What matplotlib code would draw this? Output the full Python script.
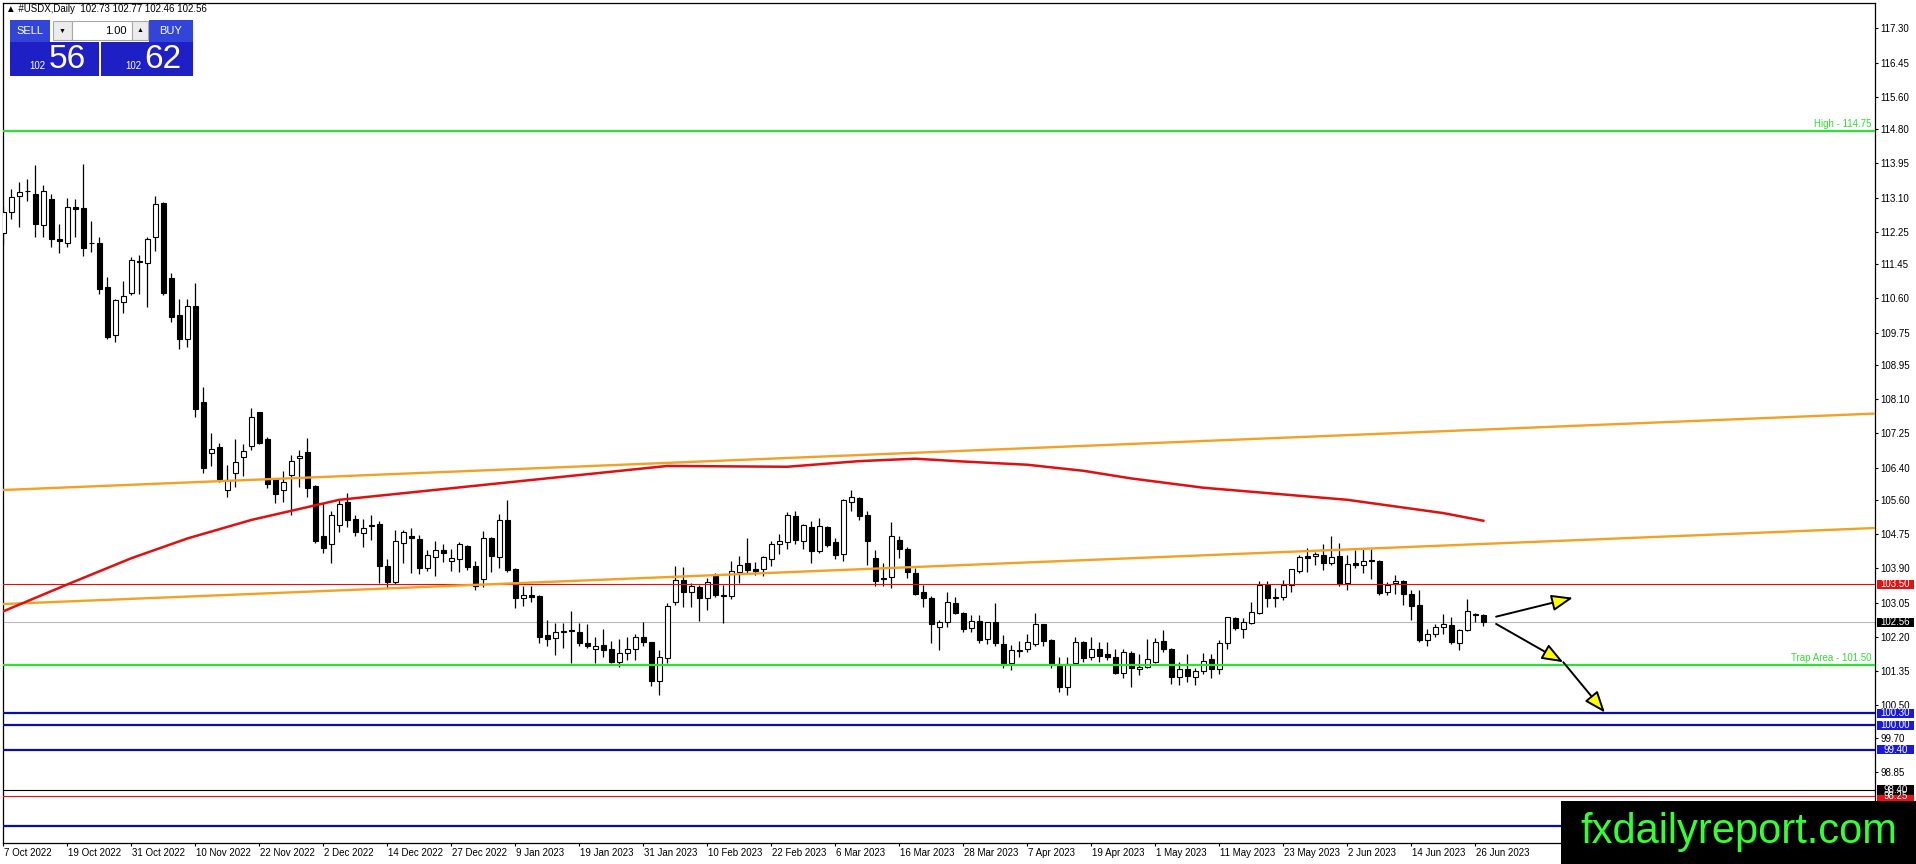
import numpy as np
import matplotlib
matplotlib.use('Agg')
import matplotlib.pyplot as plt
import matplotlib.transforms as mtransforms
from matplotlib.patches import Rectangle, FancyArrowPatch

plt.rcParams['font.family'] = ['Liberation Sans', 'DejaVu Sans']

# figure / frame geometry in pixels
W, H = 1916, 864
FRAME_L, FRAME_R, FRAME_T, FRAME_B = 2.5, 1875, 2.7, 843
Y_TOP, Y_BOT = 117.935, 97.084
X_LEFT, X_RIGHT = -0.1, 233.96

# daily USDX candles, 7 Oct 2022 .. 27 Jun 2023
opens = [112.21, 112.75, 113.14, 113.26, 113.20, 112.41, 113.06, 112.06, 111.96, 112.86,
         112.83, 111.96, 111.96, 110.87, 109.68, 110.52, 110.72, 111.52, 111.47, 112.13,
         112.97, 111.10, 110.19, 109.59, 110.41, 108.02, 106.75, 106.90, 105.84, 106.26,
         106.66, 106.94, 107.77, 107.11, 106.11, 105.84, 106.22, 106.63, 106.78, 105.94,
         104.69, 104.50, 104.97, 105.55, 105.12, 104.77, 104.98, 104.99, 103.96, 103.57,
         104.52, 104.71, 104.62, 103.92, 104.19, 104.35, 104.07, 104.14, 104.45, 103.96,
         103.63, 104.64, 104.17, 105.09, 103.88, 103.16, 103.25, 103.21, 102.25, 102.16,
         102.31, 102.36, 102.33, 102.04, 101.91, 102.00, 101.89, 101.58, 101.79, 101.91,
         102.19, 102.06, 101.10, 101.67, 103.07, 103.61, 103.30, 103.43, 103.16, 103.71,
         103.25, 103.22, 103.81, 104.02, 103.88, 103.88, 104.12, 104.50, 104.56, 105.20,
         104.59, 104.93, 104.34, 104.93, 104.56, 104.25, 105.55, 105.64, 105.22, 104.15,
         103.65, 103.69, 104.60, 104.38, 103.78, 103.31, 103.16, 102.45, 102.56, 103.03,
         102.80, 102.41, 102.60, 102.14, 102.58, 102.02, 101.54, 101.85, 101.89, 102.02,
         102.51, 102.12, 101.48, 100.96, 101.54, 102.06, 101.69, 101.89, 101.77, 101.69,
         101.29, 101.79, 101.39, 101.46, 101.58, 102.10, 101.91, 101.21, 101.39, 101.21,
         101.34, 101.64, 101.39, 102.04, 102.66, 102.39, 102.55, 102.80, 103.49, 103.16,
         103.20, 103.49, 103.84, 104.20, 104.21, 104.23, 104.02, 104.21, 103.53, 104.02,
         103.98, 104.10, 104.08, 103.30, 103.53, 103.59, 103.26, 102.99, 102.12, 102.26,
         102.44, 102.49, 102.04, 102.37, 102.77, 102.73]
highs = [112.88, 113.30, 113.48, 113.55, 113.91, 113.40, 113.19, 112.44, 113.08, 113.06,
         113.93, 112.52, 112.11, 111.14, 110.59, 111.03, 111.63, 111.67, 112.11, 113.14,
         112.98, 111.24, 110.58, 110.59, 110.97, 108.41, 107.25, 107.02, 106.46, 107.10,
         106.99, 107.87, 107.78, 107.17, 106.13, 106.32, 106.71, 106.84, 107.14, 105.97,
         105.51, 105.31, 105.60, 105.76, 105.22, 105.12, 105.22, 105.07, 104.13, 104.85,
         104.85, 104.89, 104.73, 104.35, 104.58, 104.50, 104.37, 104.55, 104.47, 104.08,
         104.83, 104.67, 105.25, 105.60, 103.90, 103.46, 103.45, 103.25, 102.62, 102.54,
         102.54, 102.85, 102.54, 102.52, 102.20, 102.39, 102.10, 102.15, 102.19, 102.27,
         102.58, 102.08, 101.87, 103.05, 103.96, 103.94, 103.53, 103.49, 103.67, 103.79,
         103.49, 104.09, 104.21, 104.64, 104.05, 104.21, 104.58, 104.74, 105.29, 105.32,
         104.99, 105.07, 105.14, 104.95, 104.64, 105.61, 105.84, 105.68, 105.33, 104.36,
         104.02, 105.06, 104.70, 104.42, 103.90, 103.49, 103.22, 102.62, 103.32, 103.20,
         102.82, 102.74, 102.73, 102.58, 103.03, 102.25, 101.99, 102.10, 102.27, 102.78,
         102.52, 102.14, 101.71, 101.71, 102.19, 102.10, 102.19, 102.08, 102.08, 101.91,
         101.89, 101.85, 101.77, 102.14, 102.16, 102.37, 101.93, 101.58, 101.77, 101.42,
         101.79, 101.77, 102.12, 102.70, 102.70, 102.66, 103.07, 103.59, 103.59, 103.40,
         103.61, 103.89, 104.23, 104.40, 104.31, 104.50, 104.69, 104.52, 104.23, 104.35,
         104.37, 104.37, 104.11, 103.57, 103.73, 103.60, 103.36, 103.36, 102.39, 102.52,
         102.76, 102.68, 102.39, 103.14, 102.78, 102.77]
lows = [111.92, 112.57, 112.38, 113.02, 112.11, 112.13, 111.88, 111.73, 111.88, 112.13,
        111.66, 111.76, 110.71, 109.60, 109.51, 110.24, 110.68, 110.70, 110.39, 111.78,
        110.68, 110.02, 109.34, 109.40, 107.66, 106.26, 106.44, 106.05, 105.68, 105.93,
        106.19, 106.84, 106.99, 105.89, 105.51, 105.55, 105.22, 105.93, 105.68, 104.54,
        104.29, 104.02, 104.81, 104.93, 104.69, 104.42, 104.60, 103.54, 103.42, 103.51,
        104.02, 103.78, 103.75, 103.83, 103.72, 104.06, 103.83, 103.82, 103.86, 103.35,
        103.43, 103.80, 103.92, 103.82, 102.91, 102.97, 103.07, 102.04, 101.96, 101.75,
        101.92, 101.54, 101.96, 101.92, 101.54, 101.71, 101.54, 101.46, 101.62, 101.62,
        101.96, 100.98, 100.76, 101.55, 102.99, 102.95, 102.95, 102.60, 102.87, 103.20,
        102.55, 103.13, 103.53, 103.78, 103.73, 103.71, 103.96, 104.26, 104.38, 104.50,
        104.38, 104.04, 104.29, 104.44, 104.12, 104.07, 105.33, 105.10, 103.98, 103.45,
        103.45, 103.40, 104.15, 103.65, 103.24, 102.95, 102.04, 101.87, 102.45, 102.77,
        102.33, 102.33, 102.04, 102.02, 101.98, 101.42, 101.38, 101.71, 101.83, 101.96,
        101.96, 101.42, 100.84, 100.76, 101.50, 101.58, 101.63, 101.58, 101.63, 101.28,
        101.17, 100.96, 101.25, 101.42, 101.54, 101.83, 101.03, 101.00, 101.07, 101.00,
        101.27, 101.17, 101.28, 101.91, 102.37, 102.16, 102.51, 102.76, 102.95, 102.93,
        103.11, 103.30, 103.79, 103.82, 103.98, 103.86, 103.98, 103.45, 103.36, 103.90,
        103.78, 103.63, 103.24, 103.24, 103.26, 102.99, 102.62, 102.06, 101.96, 102.20,
        102.27, 102.02, 101.87, 102.35, 102.58, 102.46]
closes = [112.75, 113.12, 113.25, 113.27, 112.44, 113.27, 112.06, 112.01, 112.87, 112.81,
          111.84, 111.97, 110.84, 109.65, 110.55, 110.65, 111.54, 111.49, 112.06, 112.93,
          110.72, 110.14, 109.60, 110.40, 107.85, 106.38, 106.85, 106.11, 106.09, 106.53,
          106.82, 107.66, 107.02, 105.99, 105.74, 106.05, 106.57, 106.69, 105.89, 104.59,
          104.40, 105.22, 105.49, 105.10, 104.79, 104.89, 104.96, 103.96, 103.57, 104.58,
          104.79, 104.64, 103.92, 104.22, 104.35, 104.29, 104.15, 104.50, 103.94, 103.45,
          104.64, 104.21, 105.09, 103.86, 103.16, 103.25, 103.20, 102.20, 102.14, 102.33,
          102.35, 102.34, 102.04, 101.97, 101.98, 101.87, 101.58, 101.79, 101.89, 102.19,
          102.06, 101.11, 101.71, 102.97, 103.61, 103.30, 103.45, 103.17, 103.55, 103.24,
          103.22, 103.83, 103.97, 103.86, 103.84, 104.17, 104.50, 104.58, 105.22, 104.60,
          104.98, 104.34, 104.95, 104.48, 104.23, 105.60, 105.66, 105.20, 104.59, 103.59,
          103.63, 104.70, 104.38, 103.82, 103.26, 103.17, 102.51, 102.56, 103.07, 102.80,
          102.39, 102.60, 102.12, 102.56, 102.04, 101.54, 101.87, 101.87, 102.06, 102.51,
          102.10, 101.52, 100.96, 101.52, 102.06, 101.68, 101.91, 101.73, 101.69, 101.29,
          101.82, 101.42, 101.46, 101.64, 102.06, 101.91, 101.21, 101.39, 101.24, 101.35,
          101.61, 101.39, 102.04, 102.68, 102.41, 102.58, 102.82, 103.49, 103.16, 103.20,
          103.49, 103.88, 104.19, 104.16, 104.25, 104.02, 104.17, 103.51, 104.01, 103.98,
          104.09, 104.09, 103.28, 103.49, 103.59, 103.26, 102.97, 102.11, 102.26, 102.45,
          102.51, 102.06, 102.37, 102.84, 102.73, 102.56]

date_labels = ['7 Oct 2022', '19 Oct 2022', '31 Oct 2022', '10 Nov 2022', '22 Nov 2022',
               '2 Dec 2022', '14 Dec 2022', '27 Dec 2022', '9 Jan 2023', '19 Jan 2023',
               '31 Jan 2023', '10 Feb 2023', '22 Feb 2023', '6 Mar 2023', '16 Mar 2023',
               '28 Mar 2023', '7 Apr 2023', '19 Apr 2023', '1 May 2023', '11 May 2023',
               '23 May 2023', '2 Jun 2023', '14 Jun 2023', '26 Jun 2023']
date_step = 8

price_ticks = ['117.30', '116.45', '115.60', '114.80', '113.95', '113.10', '112.25', '111.45',
               '110.60', '109.75', '108.95', '108.10', '107.25', '106.40', '105.60', '104.75',
               '103.90', '103.05', '102.20', '101.35', '100.50', '99.70', '98.85']

# moving average (red)
sma_x = [-0.4, 8, 16, 23, 31, 42, 62, 83, 98, 107, 114, 120, 128, 135, 141, 150, 168, 180, 185]
sma_y = [102.80, 103.50, 104.15, 104.64, 105.10, 105.60, 106.01, 106.44, 106.42, 106.56,
         106.62, 106.55, 106.47, 106.32, 106.13, 105.90, 105.60, 105.27, 105.08]

# orange channel
channel_x = [-0.41, 233.96]
channel_upper = [105.84, 107.74]
channel_lower = [103.01, 104.90]

# horizontal levels
high_level = 114.75
trap_level = 101.50
resist_level = 103.50
bid_price = 102.56
blue_levels = [100.30, 100.00, 99.40, 97.50]
black_level = 98.40
red_low_level = 98.25

# projected paths
arrow_up = [(186.6, 102.70), (196.2, 103.17)]
arrow_down = [(186.6, 102.52), (195.0, 101.57), (200.2, 100.32)]

GREEN = '#30e030'
BLUE = '#0c0ca8'
RED = '#e01010'
ORANGE = '#f3a024'

fig = plt.figure(figsize=(W / 100, H / 100), dpi=100)
ax = fig.add_axes([FRAME_L / W, (H - FRAME_B) / H, (FRAME_R - FRAME_L) / W, (FRAME_B - FRAME_T) / H])
ax.set_xlim(X_LEFT, X_RIGHT)
ax.set_ylim(Y_BOT, Y_TOP)
for s in ax.spines.values():
    s.set_linewidth(0.9)
    s.set_color('black')

# candles
o = np.array(opens)
c = np.array(closes)
x = np.arange(len(o))
up = c >= o
ax.vlines(x, lows, highs, color='black', lw=0.9, zorder=3)
ax.bar(x[up], (c - o)[up], bottom=o[up], width=0.55, color='white', edgecolor='black', lw=0.8, zorder=4)
ax.bar(x[~up], (o - c)[~up], bottom=c[~up], width=0.55, color='black', edgecolor='black', lw=0.8, zorder=4)

# levels
ax.axhline(high_level, color=GREEN, lw=1.6, zorder=5)
ax.axhline(trap_level, color=GREEN, lw=1.6, zorder=5)
ax.axhline(resist_level, color=RED, lw=0.8, zorder=5)
ax.axhline(bid_price, color='#b8b8b8', lw=0.8, zorder=2)
for lv in blue_levels:
    ax.axhline(lv, color=BLUE, lw=1.6, zorder=5)
ax.axhline(black_level, color='black', lw=0.8, zorder=5)
ax.axhline(red_low_level, color=RED, lw=0.8, zorder=5)

ax.plot(channel_x, channel_upper, color=ORANGE, lw=1.7, zorder=5)
ax.plot(channel_x, channel_lower, color=ORANGE, lw=1.7, zorder=5)
ax.plot(sma_x, sma_y, color=RED, lw=1.8, zorder=6)

ax.text(X_RIGHT - 0.4, high_level + 0.05, f'High - {high_level:.2f}', color=GREEN,
        fontsize=7, ha='right', va='bottom', zorder=6)
ax.text(X_RIGHT - 0.4, trap_level + 0.05, f'Trap Area - {trap_level:.2f}', color=GREEN,
        fontsize=7, ha='right', va='bottom', zorder=6)

# arrows
def draw_arrow(p0, p1):
    a = FancyArrowPatch(p0, p1, arrowstyle='-|>,head_length=1.3,head_width=0.5',
                        mutation_scale=10, fc='#ffff00', ec='black', lw=1.4, zorder=7,
                        shrinkA=0, shrinkB=0)
    ax.add_patch(a)

draw_arrow(arrow_up[0], arrow_up[1])
for i in range(len(arrow_down) - 1):
    draw_arrow(arrow_down[i], arrow_down[i + 1])

# axes ticks
ax.yaxis.tick_right()
ax.set_yticks([float(t) for t in price_ticks])
ax.set_yticklabels(price_ticks)
ax.tick_params(axis='y', direction='out', length=2.5, width=0.8, pad=1.5, labelsize=7)
ax.set_xticks(np.arange(len(date_labels)) * date_step)
ax.set_xticklabels(date_labels, ha='left')
ax.tick_params(axis='x', direction='out', length=2.5, width=0.8, pad=1.0, labelsize=7)
shift = mtransforms.ScaledTranslation(1 / 100, 0, fig.dpi_scale_trans)
for lab in ax.get_xticklabels():
    lab.set_transform(lab.get_transform() + shift)

# price labels on the right axis
box_tr = mtransforms.blended_transform_factory(fig.transFigure, ax.transData)
box_h = 9.6 / 40.3
right_boxes = [(resist_level, '#e81010'), (bid_price, 'black'), (blue_levels[0], '#1a1ad8'),
               (blue_levels[1], '#1a1ad8'), (blue_levels[2], '#1a1ad8'), (red_low_level, '#e81010'),
               (black_level, 'black')]
for lv, col in right_boxes:
    ax.add_patch(Rectangle((1877 / W, lv - box_h / 2), 37 / W, box_h, transform=box_tr,
                           facecolor=col, edgecolor='none', clip_on=False, zorder=8))
    ax.text(1895.5 / W, lv, f'{lv:.2f}', transform=box_tr, color='white', fontsize=7,
            ha='center', va='center', clip_on=False, zorder=9)

# header and one-click trading panel (figure pixels, origin top-left)
px = mtransforms.Affine2D().scale(1 / W, -1 / H).translate(0, 1) + fig.transFigure

def box(x0, y0, w, h, fc, ec='none'):
    fig.patches.append(Rectangle((x0, y0), w, h, transform=px, facecolor=fc, edgecolor=ec,
                                 lw=0.8, zorder=5))

fig.text(6, 9, '\u25b2 #USDX,Daily  102.73 102.77 102.46 102.56', transform=px,
         fontsize=7, ha='left', va='center', zorder=6)
box(10, 20, 40, 22, '#3344d8')
box(149, 20, 44, 22, '#3344d8')
box(53, 21, 19, 19, '#ececec', '#a8a8a8')
box(72, 21, 60, 19, 'white', '#a8a8a8')
box(132, 21, 16, 19, '#ececec', '#a8a8a8')
box(10, 42, 89, 34, '#1f1fc6')
box(101, 42, 92, 34, '#1f1fc6')
fig.text(30, 31, 'SELL', transform=px, color='white', fontsize=8, ha='center', va='center', zorder=6)
fig.text(171, 31, 'BUY', transform=px, color='white', fontsize=8, ha='center', va='center', zorder=6)
fig.text(62, 31, '\u25bc', transform=px, color='black', fontsize=5, ha='center', va='center', zorder=6)
fig.text(140, 31, '\u25b2', transform=px, color='black', fontsize=5, ha='center', va='center', zorder=6)
fig.text(127, 31, '1.00', transform=px, color='black', fontsize=8, ha='right', va='center', zorder=6)
fig.text(37, 66, '102', transform=px, color='white', fontsize=7, ha='center', va='center', zorder=6)
fig.text(67, 59, '56', transform=px, color='white', fontsize=24, ha='center', va='center', zorder=6)
fig.text(133, 66, '102', transform=px, color='white', fontsize=7, ha='center', va='center', zorder=6)
fig.text(163, 59, '62', transform=px, color='white', fontsize=24, ha='center', va='center', zorder=6)

# watermark
fig.patches.append(Rectangle((1561, 801), W - 1561, H - 801, transform=px, facecolor='black',
                             edgecolor='none', zorder=10))
fig.text(1739, 832, 'fxdailyreport.com', transform=px, color='#33ff33', fontsize=30,
         ha='center', va='center', zorder=11)

fig.savefig('out.png', dpi=100)
